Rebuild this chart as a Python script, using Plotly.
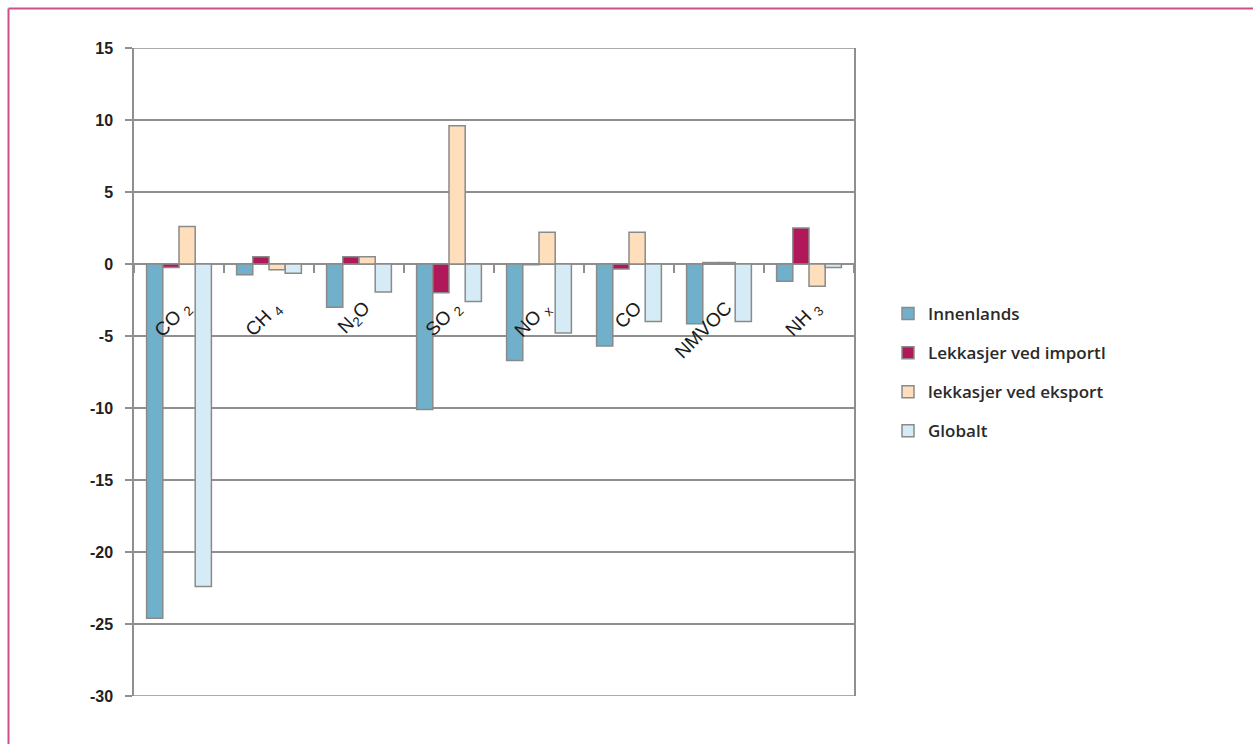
import plotly.graph_objects as go

categories = ["CO2", "CH4", "N2O", "SO2", "NOx", "CO", "NMVOC", "NH3"]
category_labels = ["CO <sub>2</sub>", "CH <sub>4</sub>", "N<sub>2</sub>O", "SO <sub>2</sub>",
                   "NO <sub>x</sub>", "CO", "NMVOC", "NH <sub>3</sub>"]

innenlands = [-24.6, -0.75, -3.0, -10.1, -6.7, -5.7, -4.15, -1.2]
lekkasjer_import = [-0.25, 0.5, 0.5, -2.0, -0.05, -0.35, 0.1, 2.5]
lekkasjer_eksport = [2.6, -0.4, 0.5, 9.6, 2.2, 2.2, 0.1, -1.55]
globalt = [-22.4, -0.65, -1.95, -2.6, -4.8, -4.0, -4.0, -0.25]

series_names = ["Innenlands", "Lekkasjer ved importI", "lekkasjer ved eksport", "Globalt"]
series_values = [innenlands, lekkasjer_import, lekkasjer_eksport, globalt]
series_colors = ["#70b0cb", "#b0185a", "#ffdfbb", "#d5ebf5"]

y_ticks = [15, 10, 5, 0, -5, -10, -15, -20, -25, -30]

grid = "#8f8f8f"

fig = go.Figure()
for name, vals, col in zip(series_names, series_values, series_colors):
    fig.add_trace(go.Bar(
        x=categories, y=vals, name=name, legendgroup=name,
        marker=dict(color=col, line=dict(color="#8a8a8a", width=1.5)),
    ))

for cat, lab in zip(categories, category_labels):
    fig.add_annotation(
        x=cat, y=-2.6, xref="x", yref="y", text=lab, showarrow=False,
        textangle=-45, xanchor="right", yanchor="top", xshift=20, yshift=7,
        font=dict(family="Liberation Sans, Arial, sans-serif", size=19, color="#1a1a1a"),
    )

# edge gridlines (top and bottom of the value axis)
for v in (max(y_ticks), min(y_ticks)):
    fig.add_shape(type="line", xref="paper", yref="y", x0=0, x1=1, y0=v, y1=v,
                  line=dict(color=grid, width=1.5), layer="below")

# pink frame (top and left edges visible)
def px_x(px):
    return (px - 134) / 720.0

def px_y(py):
    return (696 - py) / 648.0

fig.add_shape(type="line", xref="paper", yref="paper",
              x0=px_x(8.5), x1=px_x(1270), y0=px_y(8.5), y1=px_y(8.5),
              line=dict(color="#c9508a", width=2))
fig.add_shape(type="line", xref="paper", yref="paper",
              x0=px_x(8.5), x1=px_x(8.5), y0=px_y(8.5), y1=px_y(760),
              line=dict(color="#c9508a", width=2))

fig.update_layout(
    width=1253, height=744,
    margin=dict(l=134, r=399, t=48, b=48),
    plot_bgcolor="white", paper_bgcolor="white",
    barmode="group", bargap=0.28, bargroupgap=0,
    showlegend=True,
    legend=dict(
        x=px_x(888), xanchor="left", y=px_y(296), yanchor="top",
        font=dict(family="Open Sans, sans-serif", size=17, color="#2a2a2a", weight=600),
        tracegroupgap=14, traceorder="grouped", bgcolor="rgba(0,0,0,0)",
    ),
    xaxis=dict(
        type="category", anchor="free", position=2/3,
        showgrid=False, showline=False, zeroline=False,
        showticklabels=False, ticks="outside", tickson="boundaries",
        ticklen=8, tickwidth=1.5, tickcolor=grid,
    ),
    yaxis=dict(
        range=[-30, 15], tickvals=y_ticks, ticktext=[str(v) for v in y_ticks],
        showgrid=True, gridcolor=grid, gridwidth=1.5,
        zeroline=False, showline=True, linecolor=grid, linewidth=1.5, mirror=True,
        ticks="outside", ticklen=7, tickwidth=1.5, tickcolor=grid,
        ticklabelstandoff=9,
        tickfont=dict(family="Liberation Sans, Arial, sans-serif", size=16, color="#222222", weight="bold"),
    ),
)

fig.write_html("out.html")
